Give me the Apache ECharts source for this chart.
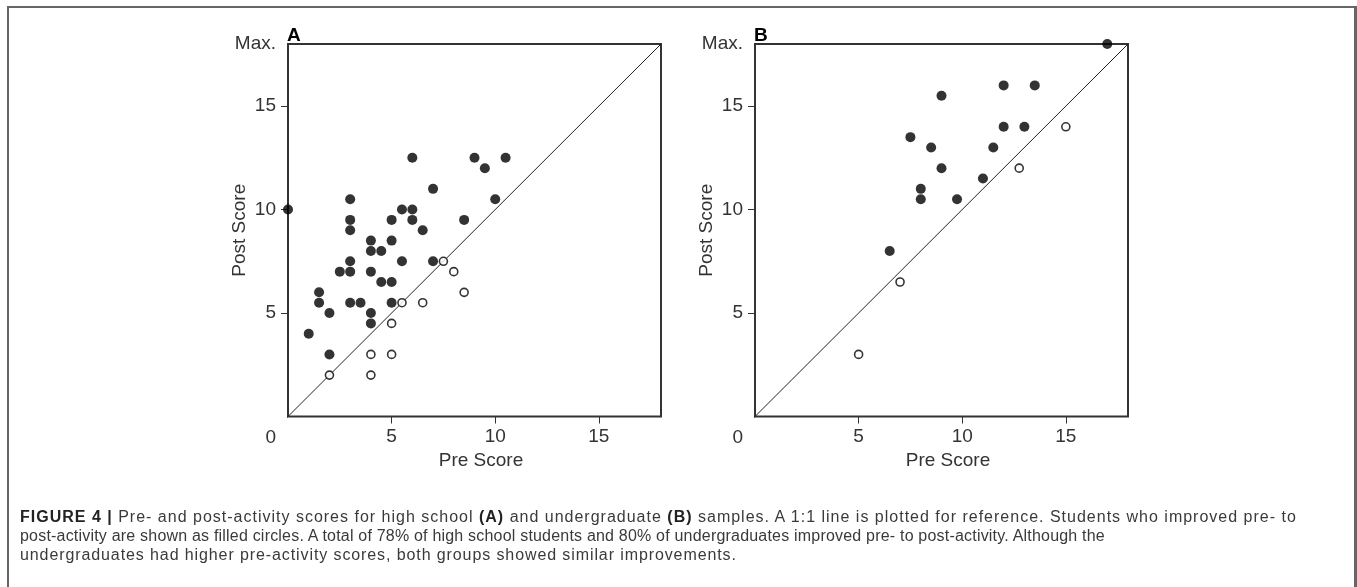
<!DOCTYPE html>
<html>
<head>
<meta charset="utf-8">
<script src="https://cdn.jsdelivr.net/npm/echarts@6/dist/echarts.min.js"></script>
<style>
  html, body { margin: 0; padding: 0; background: #fff; }
  #wrap { position: relative; width: 1357px; height: 587px; overflow: hidden; }
  #frame { position: absolute; left: 7px; top: 6px; width: 1345px; height: 620px; border: 2px solid #666; border-right-width: 3px; }
  #chart { position: absolute; left: 0; top: 0; width: 1357px; height: 587px; }
  #caption { position: absolute; left: 20px; top: 507px; font-family: "Liberation Sans", Arial, sans-serif; font-size: 16px; line-height: 19px; color: #3a3a3a; white-space: nowrap; }
  #caption div { height: 19px; }
  #caption b { color: #222; }
</style>
</head>
<body>
<div id="wrap">
  <div id="frame"></div>
  <div id="chart"></div>
  <div id="caption">
    <div style="letter-spacing: 1.0px"><b>FIGURE 4 |</b> Pre- and post-activity scores for high school <b>(A)</b> and undergraduate <b>(B)</b> samples. A 1:1 line is plotted for reference. Students who improved pre- to</div>
    <div style="letter-spacing: 0.2px">post-activity are shown as filled circles. A total of 78% of high school students and 80% of undergraduates improved pre- to post-activity. Although the</div>
    <div style="letter-spacing: 0.9px">undergraduates had higher pre-activity scores, both groups showed similar improvements.</div>
  </div>
</div>
<script>
// Panel A - high school (pre, post)
const improvedA = [
    [0, 10], [1, 4], [1.5, 6], [1.5, 5.5], [2, 5], [2, 3], [2.5, 7],
    [3, 10.5], [3, 9.5], [3, 9], [3, 7.5], [3, 7], [3, 5.5], [3.5, 5.5],
    [4, 8.5], [4, 8], [4, 7], [4, 5], [4, 4.5], [4.5, 8], [4.5, 6.5],
    [5, 9.5], [5, 8.5], [5, 6.5], [5, 5.5], [5.5, 10], [5.5, 7.5],
    [6, 12.5], [6, 10], [6, 9.5], [6.5, 9], [7, 11], [7, 7.5],
    [8.5, 9.5], [9, 12.5], [9.5, 12], [10, 10.5], [10.5, 12.5]
];
const notImprovedA = [
    [2, 2], [4, 2], [4, 3], [5, 3], [5, 4.5], [5.5, 5.5], [6.5, 5.5],
    [7.5, 7.5], [8, 7], [8.5, 6]
];

// Panel B - undergraduate (pre, post)
const improvedB = [
    [17, 18], [12, 16], [13.5, 16], [9, 15.5], [12, 14], [13, 14],
    [7.5, 13.5], [8.5, 13], [11.5, 13], [9, 12], [11, 11.5], [8, 11],
    [8, 10.5], [9.75, 10.5], [6.5, 8]
];
const notImprovedB = [[15, 14], [12.75, 12], [7, 6.5], [5, 3]];

// 1:1 reference line, axis ticks
const oneToOne = [[-0.25, -0.25], [18, 18]];
const tickValues = [5, 10, 15];
const axisMax = 18;
const maxLabel = 'Max.';
const panelNames = ['A', 'B'];

const textColor = '#333';
const fontFamily = '"Liberation Sans", Arial, sans-serif';

function makeXAxis(gridIndex) {
    return {
        type: 'value', gridIndex: gridIndex, min: 0, max: axisMax, interval: 5,
        name: 'Pre Score', nameLocation: 'middle', nameGap: 32,
        nameTextStyle: { color: textColor, fontSize: 19, fontFamily: fontFamily, padding: [0, 0, 0, 13] },
        axisLine: { show: false },
        axisTick: { show: true, customValues: tickValues, length: 7, lineStyle: { color: textColor, width: 1 } },
        axisLabel: { customValues: tickValues, margin: 11, color: textColor, fontSize: 19, fontFamily: fontFamily },
        splitLine: { show: false }
    };
}

function makeYAxis(gridIndex) {
    return {
        type: 'value', gridIndex: gridIndex, min: 0, max: axisMax, interval: 5,
        name: 'Post Score', nameLocation: 'middle', nameGap: 39, nameRotate: 90,
        nameMoveOverlap: false,
        nameTextStyle: { color: textColor, fontSize: 19, fontFamily: fontFamily },
        axisLine: { show: false },
        axisTick: { show: true, customValues: tickValues, length: 7, lineStyle: { color: textColor, width: 1 } },
        axisLabel: {
            customValues: [0].concat(tickValues, [axisMax]),
            margin: 12, color: textColor, fontSize: 19, fontFamily: fontFamily,
            formatter: function (v) {
                if (v === axisMax) return maxLabel;
                if (v === 0) return '{zero|0}';
                return String(v);
            },
            rich: { zero: { padding: [42, 0, 0, 0], color: textColor, fontSize: 19, fontFamily: fontFamily } }
        },
        splitLine: { show: false }
    };
}

function makeSeries(gridIndex, filled, open) {
    return [
        {
            type: 'line', xAxisIndex: gridIndex, yAxisIndex: gridIndex, data: oneToOne,
            symbol: 'none', clip: false, silent: true,
            lineStyle: { color: '#222', width: 1 }, z: 1
        },
        {
            type: 'scatter', xAxisIndex: gridIndex, yAxisIndex: gridIndex, data: filled,
            symbol: 'circle', symbolSize: 10, clip: false,
            itemStyle: { color: '#000' }, z: 3
        },
        {
            type: 'scatter', xAxisIndex: gridIndex, yAxisIndex: gridIndex, data: open,
            symbol: 'circle', symbolSize: 8, clip: false,
            itemStyle: { color: '#fff', borderColor: '#000', borderWidth: 1.6 }, z: 3
        }
    ];
}

const gridLefts = [288, 755];
const chart = echarts.init(document.getElementById('chart'), null, { renderer: 'canvas' });
chart.setOption({
    animation: false,
    backgroundColor: 'transparent',
    title: panelNames.map(function (name, i) {
        return {
            text: name, left: gridLefts[i] - 1, top: 26, padding: 0,
            textStyle: { fontSize: 19, fontWeight: 'bold', color: '#000', fontFamily: fontFamily }
        };
    }),
    grid: gridLefts.map(function (left) {
        return {
            left: left, top: 44, width: 373, height: 372.5,
            show: true, borderColor: '#333', borderWidth: 2, backgroundColor: 'transparent'
        };
    }),
    xAxis: [makeXAxis(0), makeXAxis(1)],
    yAxis: [makeYAxis(0), makeYAxis(1)],
    series: makeSeries(0, improvedA, notImprovedA).concat(makeSeries(1, improvedB, notImprovedB))
});
</script>
</body>
</html>
